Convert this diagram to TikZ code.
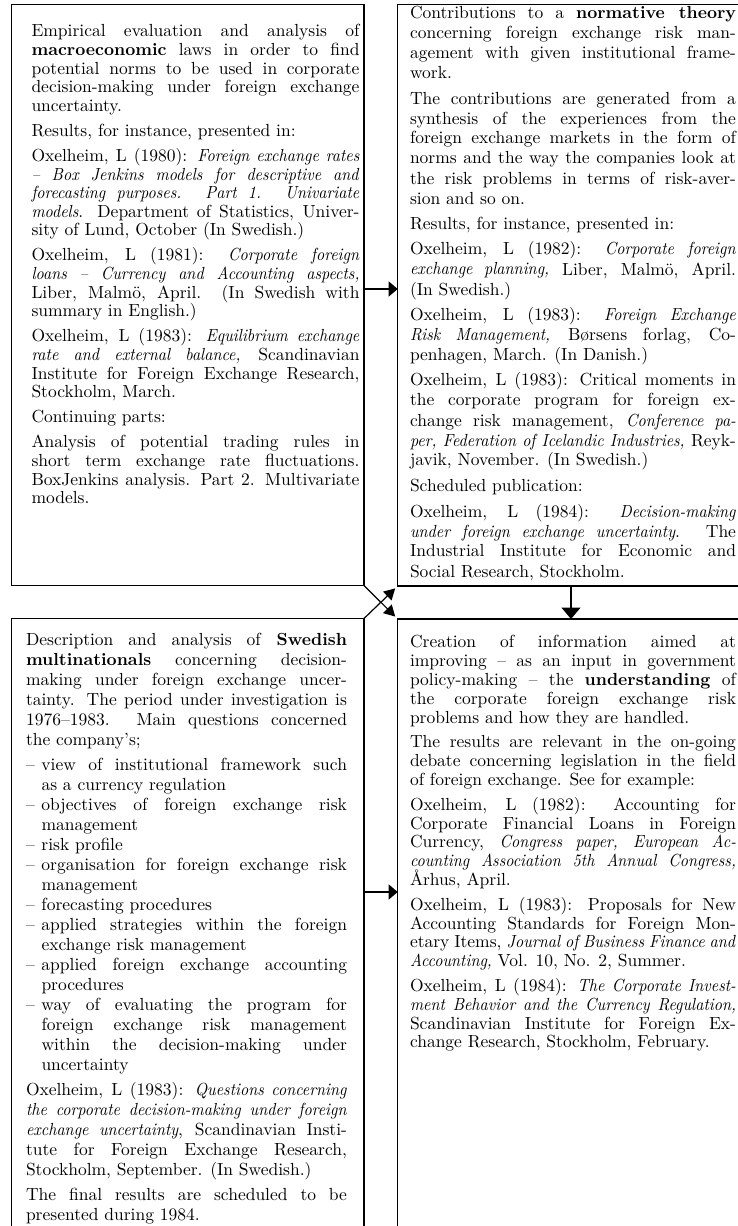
\documentclass[tikz,border=0pt]{standalone}
\usepackage{fontspec}
\setmainfont{lmroman10}[Extension=.otf,UprightFont=*-regular,BoldFont=*-bold,ItalicFont=*-italic,BoldItalicFont=*-bolditalic,Ligatures=TeX,ItalicFeatures={FakeStretch=0.92},BoldItalicFeatures={FakeStretch=0.92}]
\usetikzlibrary{arrows.meta}
\newcommand\jln[1]{\hbox to \hsize{\strut#1}}
\newcommand\lln[1]{\hbox to \hsize{\strut#1\hfil}}
\newcommand\gp[1]{\vskip#1pt\relax}
\newcommand\itm[1]{\makebox[15.5pt][l]{–}#1}
\newcommand\ind{\hspace*{15.5pt}}
\newcommand\tblock[3]{\vtop{\hsize=#1\fontsize{17.5}{#2}\selectfont\lineskiplimit=-50pt\relax #3}}
\begin{document}
\begin{tikzpicture}[x=1pt,y=-1pt,
  boxshape/.style={inner sep=0pt,outer sep=0pt,line width=1.2pt,anchor=north west},
  boxline/.style={line width=1.2pt},
  txt/.style={inner sep=0pt,outer sep=0pt,anchor=north west},
  harr/.style={line width=1.2pt,-{Triangle[length=9pt,width=15pt]}},
  varr/.style={line width=1.2pt,-{Triangle[length=11.5pt,width=19pt]}},
  darr/.style={line width=1.2pt,shorten >=3.5pt,-{Triangle[length=11pt,width=12pt]}}]
\useasboundingbox (0,0) rectangle (738,1226);
\fill[white] (0,0) rectangle (738,1226);

% boxes
\node[boxshape,draw,minimum width=352.3pt,minimum height=581pt] (tl) at (11.7,4.5) {};
\node[boxshape,minimum width=342pt,minimum height=581.5pt] (tr) at (397.7,4.5) {};
\node[boxshape,minimum width=352.3pt,minimum height=620pt] (bl) at (11.7,618.5) {};
\node[boxshape,minimum width=342pt,minimum height=620pt] (br) at (397.7,619) {};
\draw[boxline] (tr.north east) -- (tr.north west) -- (tr.south west) -- (tr.south east);
\draw[boxline] (bl.south west) -- (bl.north west) -- (bl.north east) -- (bl.south east);
\draw[boxline] (br.north east) -- (br.north west) -- (br.south west);

% top-left text
\node[txt] (tlt) at (31.5,23.8) {\tblock{328pt}{18.6}{%
\jln{Empirical evaluation and analysis of}
\jln{\textbf{macroeconomic} laws in order to find}
\jln{potential norms to be used in corporate}
\jln{decision-making under foreign exchange}
\lln{uncertainty.}
\gp{6.5}
\lln{Results, for instance, presented in:}
\gp{6.5}
\jln{Oxelheim, L (1980): \textit{Foreign exchange rates}}
\jln{\textit{– Box Jenkins models for descriptive and}}
\jln{\textit{forecasting purposes. Part 1. Univariate}}
\jln{\textit{models}. Department of Statistics, Univer-}
\lln{sity of Lund, October (In Swedish.)}
\gp{6.5}
\jln{Oxelheim, L (1981): \textit{Corporate foreign}}
\jln{\textit{loans – Currency and Accounting aspects,}}
\jln{Liber, Malmö, April. (In Swedish with}
\lln{summary in English.)}
\gp{6.5}
\jln{Oxelheim, L (1983): \textit{Equilibrium exchange}}
\jln{\textit{rate and external balance,} Scandinavian}
\jln{Institute for Foreign Exchange Research,}
\lln{Stockholm, March.}
\gp{6.5}
\lln{Continuing parts:}
\gp{6.5}
\jln{Analysis of potential trading rules in}
\jln{short term exchange rate fluctuations.}
\jln{BoxJenkins analysis. Part 2. Multivariate}
\lln{models.}
}};

% top-right text
\node[txt] (trt) at (410,4.5) {\tblock{326pt}{20}{%
\jln{Contributions to a \textbf{normative theory}}
\jln{concerning foreign exchange risk man-}
\jln{agement with given institutional frame-}
\lln{work.}
\gp{5.5}
\jln{The contributions are generated from a}
\jln{synthesis of the experiences from the}
\jln{foreign exchange markets in the form of}
\jln{norms and the way the companies look at}
\jln{the risk problems in terms of risk-aver-}
\lln{sion and so on.}
\gp{5.5}
\lln{Results, for instance, presented in:}
\gp{5.5}
\jln{Oxelheim, L (1982): \textit{Corporate foreign}}
\jln{\textit{exchange planning,} Liber, Malmö, April.}
\lln{(In Swedish.)}
\gp{5.5}
\jln{Oxelheim, L (1983): \textit{Foreign Exchange}}
\jln{\textit{Risk Management,} Børsens forlag, Co-}
\lln{penhagen, March. (In Danish.)}
\gp{5.5}
\jln{Oxelheim, L (1983): Critical moments in}
\jln{the corporate program for foreign ex-}
\jln{change risk management, \textit{Conference pa-}}
\jln{\textit{per, Federation of Icelandic Industries,} Reyk-}
\lln{javik, November. (In Swedish.)}
\gp{5.5}
\lln{Scheduled publication:}
\gp{5.5}
\jln{Oxelheim, L (1984): \textit{Decision-making}}
\jln{\textit{under foreign exchange uncertainty}. The}
\jln{Industrial Institute for Economic and}
\lln{Social Research, Stockholm.}
}};

% bottom-left text
\node[txt] (blt) at (26,631) {\tblock{321pt}{20}{%
\jln{Description and analysis of \textbf{Swedish}}
\jln{\textbf{multinationals} concerning decision-}
\jln{making under foreign exchange uncer-}
\jln{tainty. The period under investigation is}
\jln{1976–1983. Main questions concerned}
\lln{the company's;}
\gp{5}
\jln{\itm{view of institutional framework such}}
\lln{\ind as a currency regulation}
\jln{\itm{objectives of foreign exchange risk}}
\lln{\ind management}
\lln{\itm{risk profile}}
\jln{\itm{organisation for foreign exchange risk}}
\lln{\ind management}
\lln{\itm{forecasting procedures}}
\jln{\itm{applied strategies within the foreign}}
\lln{\ind exchange risk management}
\jln{\itm{applied foreign exchange accounting}}
\lln{\ind procedures}
\jln{\itm{way of evaluating the program for}}
\jln{\ind foreign exchange risk management}
\jln{\ind within the decision-making under}
\lln{\ind uncertainty}
\gp{5}
\jln{Oxelheim, L (1983): \textit{Questions concerning}}
\jln{\textit{the corporate decision-making under foreign}}
\jln{\textit{exchange uncertainty}, Scandinavian Insti-}
\jln{tute for Foreign Exchange Research,}
\lln{Stockholm, September. (In Swedish.)}
\gp{5}
\jln{The final results are scheduled to be}
\lln{presented during 1984.}
}};

% bottom-right text
\node[txt] (brt) at (410,634.8) {\tblock{326pt}{18.8}{%
\jln{Creation of information aimed at}
\jln{improving – as an input in government}
\jln{policy-making – the \textbf{understanding} of}
\jln{the corporate foreign exchange risk}
\lln{problems and how they are handled.}
\gp{6}
\jln{The results are relevant in the on-going}
\jln{debate concerning legislation in the field}
\lln{of foreign exchange. See for example:}
\gp{6}
\jln{Oxelheim, L (1982): Accounting for}
\jln{Corporate Financial Loans in Foreign}
\jln{Currency, \textit{Congress paper, European Ac-}}
\jln{\textit{counting Association 5th Annual Congress,}}
\lln{Århus, April.}
\gp{6}
\jln{Oxelheim, L (1983): Proposals for New}
\jln{Accounting Standards for Foreign Mon-}
\jln{etary Items, \textit{Journal of Business Finance and}}
\lln{\textit{Accounting,} Vol. 10, No. 2, Summer.}
\gp{6}
\jln{Oxelheim, L (1984): \textit{The Corporate Invest-}}
\jln{\textit{ment Behavior and the Currency Regulation,}}
\jln{Scandinavian Institute for Foreign Ex-}
\lln{change Research, Stockholm, February.}
}};

% connectors
\coordinate (h1) at (0,289);
\coordinate (h2) at (0,892);
\coordinate (v1) at (571,0);
\draw[harr] (tl.east |- h1) -- (tr.west |- h1);
\draw[harr] (bl.east |- h2) -- (br.west |- h2);
\draw[varr] (tr.south -| v1) -- (br.north -| v1);
\draw[darr] (tl.south east) -- (br.north west);
\draw[darr] (bl.north east) -- (tr.south west);
\end{tikzpicture}
\end{document}
